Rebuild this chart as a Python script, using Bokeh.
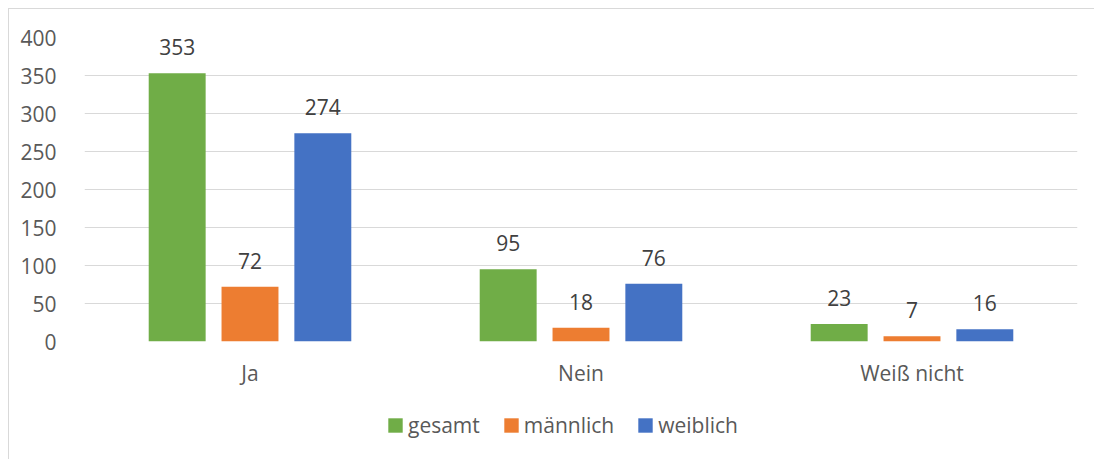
from bokeh.plotting import figure
from bokeh.layouts import column
from bokeh.models import (ColumnDataSource, Range1d, FactorRange, FixedTicker, LabelSet,
                          Legend, LegendItem)
from bokeh.core.properties import value
from bokeh.transform import dodge
from bokeh.embed import file_html
from bokeh.resources import INLINE

categories = ["Ja", "Nein", "Weiß nicht"]
gesamt = [353, 95, 23]
maennlich = [72, 18, 7]
weiblich = [274, 76, 16]
series_names = ["gesamt", "männlich", "weiblich"]
colors = ["#70ad47", "#ed7d31", "#4472c4"]
y_ticks = [0, 50, 100, 150, 200, 250, 300, 350, 400]

FONT = "Open Sans"
FS = "21px"
TXT = "#595959"
BORDER = "#d9d9d9"

src = ColumnDataSource(dict(cat=categories, gesamt=gesamt, maennlich=maennlich,
                            weiblich=weiblich,
                            l_g=[str(v) for v in gesamt],
                            l_m=[str(v) for v in maennlich],
                            l_w=[str(v) for v in weiblich]))

# ---- main chart ----
p = figure(x_range=FactorRange(*categories), y_range=Range1d(0, 400),
           width=1094, height=400, output_backend="svg", toolbar_location=None,
           min_border_left=84, min_border_right=17, min_border_top=37, min_border_bottom=59)
p.x_range.range_padding = 0
p.outline_line_color = None
p.background_fill_alpha = 0
p.border_fill_alpha = 0
p.styles = {
    "background-color": "white",
    "background-image": f"linear-gradient({BORDER}, {BORDER}), linear-gradient({BORDER}, {BORDER})",
    "background-size": "1px 100%, 100% 1px",
    "background-position": "8px 8px, 8px 8px",
    "background-repeat": "no-repeat",
}

cols = ["gesamt", "maennlich", "weiblich"]
labs = ["l_g", "l_m", "l_w"]
offsets = [-0.22, 0.0, 0.22]
for c, lab, off, col in zip(cols, labs, offsets, colors):
    p.vbar(x=dodge("cat", off, range=p.x_range), top=c, width=0.172, source=src,
           fill_color=col, line_color=None)
    ls = LabelSet(x=dodge("cat", off, range=p.x_range), y=c, text=lab, source=src,
                  y_offset=26, text_align="center", text_baseline="middle",
                  text_font=value(FONT), text_font_size=value(FS), text_color="#404040")
    p.add_layout(ls)

p.yaxis.ticker = FixedTicker(ticks=y_ticks)
p.ygrid.ticker = FixedTicker(ticks=y_ticks)
p.ygrid.grid_line_color = BORDER
p.xgrid.grid_line_color = None
for ax in (p.xaxis[0], p.yaxis[0]):
    ax.axis_line_color = None
    ax.major_tick_line_color = None
    ax.minor_tick_line_color = None
    ax.major_label_text_font = FONT
    ax.major_label_text_font_size = FS
    ax.major_label_text_color = TXT
p.yaxis.major_label_standoff = 22
p.xaxis.major_label_standoff = 11

# ---- legend strip (its frame is aligned with the main frame by the column) ----
pl = figure(width=1094, height=59, output_backend="svg", toolbar_location=None,
            x_range=Range1d(0, 1), y_range=Range1d(0, 1),
            min_border_left=84, min_border_right=17, min_border_top=0, min_border_bottom=0)
pl.axis.visible = False
pl.grid.visible = False
pl.outline_line_color = None
pl.background_fill_alpha = 0
pl.border_fill_alpha = 0
pl.styles = {
    "background-color": "white",
    "background-image": f"linear-gradient({BORDER}, {BORDER})",
    "background-size": "1px 100%",
    "background-position": "8px 0px",
    "background-repeat": "no-repeat",
}
# zero-height placeholder bars: only their legend swatches are visible
swatch_src = ColumnDataSource(dict(x=[0.5], top=[0]))
items = []
for name, col in zip(series_names, colors):
    r = pl.vbar(x="x", top="top", bottom=0, width=0.1, source=swatch_src,
                fill_color=col, line_color=None)
    items.append(LegendItem(label=name, renderers=[r]))

legend = Legend(items=items, location=(302, 20), orientation="horizontal",
                glyph_width=18, glyph_height=18, label_standoff=4, spacing=22,
                padding=0, margin=0, border_line_color=None, background_fill_alpha=0,
                label_text_font=FONT, label_text_font_size=FS, label_text_color=TXT)
pl.add_layout(legend, "center")

layout = column(p, pl, spacing=0)
open("out.html", "w").write(file_html(layout, INLINE))
